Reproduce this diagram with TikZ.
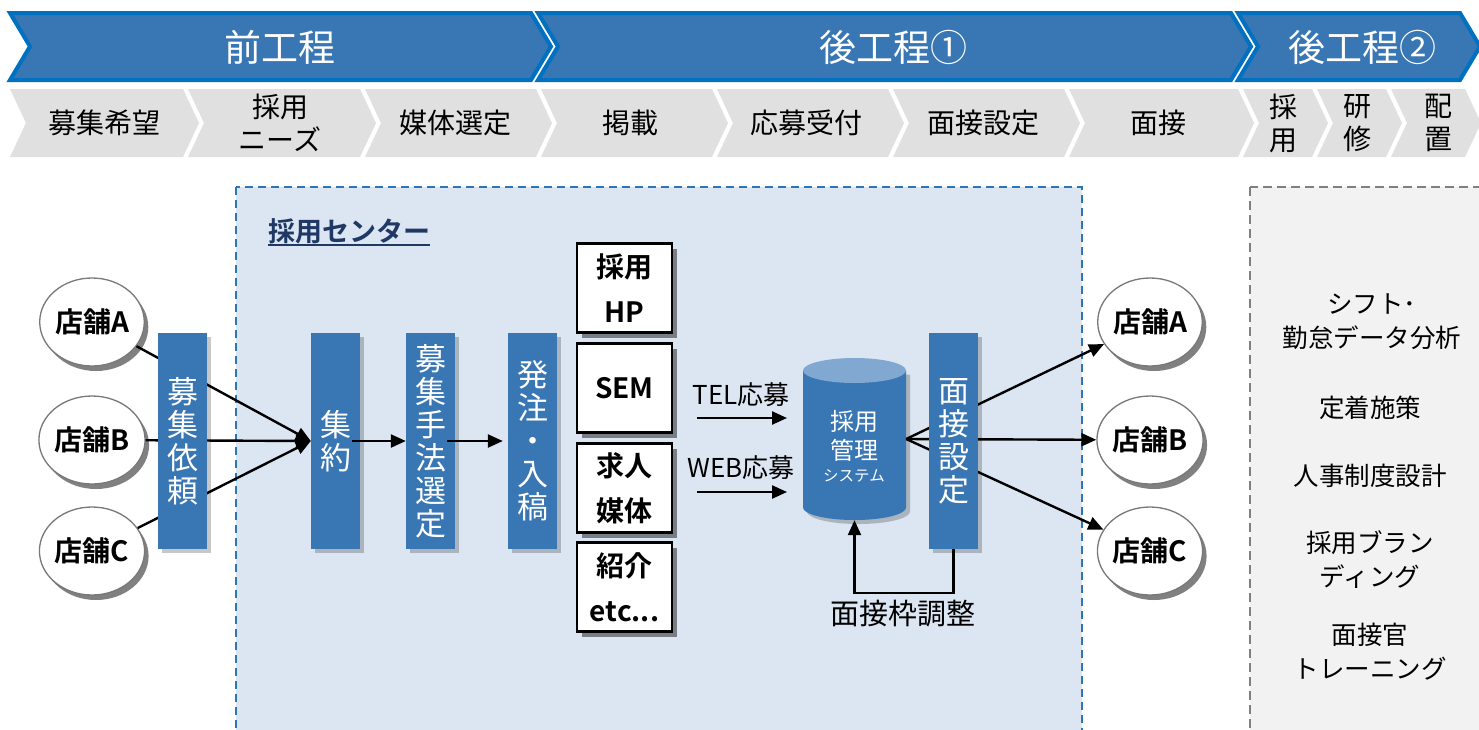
\documentclass[tikz,border=0pt]{standalone}
\usepackage{fontspec}
\setmainfont{Noto Sans CJK JP}[BoldFont={Noto Sans CJK JP Bold}]
\usetikzlibrary{shapes.geometric,shadows,arrows.meta,calc}
\definecolor{barblue}{RGB}{56,118,180}
\definecolor{hdrborder}{RGB}{0,112,192}
\definecolor{hdrfill}{RGB}{56,119,180}
\definecolor{boxfill}{RGB}{220,230,242}
\definecolor{boxline}{RGB}{46,117,182}
\definecolor{panelfill}{RGB}{242,242,242}
\definecolor{panelline}{RGB}{128,128,128}
\definecolor{chevgray}{RGB}{224,224,224}
\definecolor{cyltop}{RGB}{128,168,209}
\definecolor{navy}{RGB}{31,56,100}
\definecolor{circshadow}{RGB}{128,128,128}
\definecolor{circline}{RGB}{120,120,120}
\newcommand{\chevshape}[6]{%
  \path[#1] (#2,#4) -- (#3,#4) -- ({#3+#6},{(#4+#5)/2}) -- (#3,#5) -- (#2,#5) -- ({#2+#6},{(#4+#5)/2}) -- cycle;}
\begin{document}
\begin{tikzpicture}[x=1pt,y=-1pt,
  hdr/.style={fill=hdrfill,draw=hdrborder,line width=4pt},
  gch/.style={fill=chevgray},
  hdrtext/.style={text=white,font=\fontsize{37}{40}\selectfont,inner sep=0},
  subtext/.style={font=\fontsize{28}{33}\selectfont,align=center,inner sep=0},
  store/.style={ellipse,draw=circline,line width=1.3pt,fill=white,minimum width=92pt,minimum height=88pt,inner sep=0,font=\bfseries\fontsize{28}{30}\selectfont,drop shadow={shadow xshift=4pt,shadow yshift=-5pt,fill=circshadow,opacity=1}},
  bar/.style={fill=barblue,text=white,minimum width=49pt,minimum height=216pt,inner sep=0,align=center,font=\fontsize{31}{33}\selectfont,drop shadow={shadow xshift=4pt,shadow yshift=-4pt,fill=black,opacity=0.22}},
  media/.style={draw=black,line width=2.2pt,fill=white,minimum width=95pt,minimum height=89pt,inner sep=0,align=center,font=\bfseries\fontsize{28}{45}\selectfont,drop shadow={shadow xshift=5pt,shadow yshift=-5pt,fill=black,opacity=0.45}},
  conn/.style={line width=2.4pt,draw=black},
  arr/.style={conn,-{Triangle[length=15pt,width=13pt]}},
  lbl/.style={font=\fontsize{26}{28}\selectfont,inner sep=0},
  paneltext/.style={font=\fontsize{25.5}{34}\selectfont,align=center,inner sep=0},
]
\useasboundingbox (0,0) rectangle (1479,729);
\fill[white] (0,0) rectangle (1479,729);
% header chevrons
\chevshape{hdr}{10}{531}{13}{80}{20}
\chevshape{hdr}{538}{1231}{13}{80}{20}
\chevshape{hdr}{1238}{1460}{13}{80}{20}
% step chevrons
\chevshape{gch}{10}{183}{89}{157}{16}
\chevshape{gch}{188}{360}{89}{157}{16}
\chevshape{gch}{365}{536}{89}{157}{16}
\chevshape{gch}{541}{712}{89}{157}{16}
\chevshape{gch}{717}{888}{89}{157}{16}
\chevshape{gch}{893}{1064}{89}{157}{16}
\chevshape{gch}{1069}{1238}{89}{157}{16}
\chevshape{gch}{1243}{1312}{89}{157}{16}
\chevshape{gch}{1317}{1386}{89}{157}{16}
\chevshape{gch}{1391}{1465}{89}{157}{16}
% regions
\draw[boxline,fill=boxfill,line width=2pt,dash pattern=on 8pt off 5pt] (236,187) rectangle (1082,760);
\draw[panelline,fill=panelfill,line width=2.5pt,dash pattern=on 9pt off 5pt] (1250,187) rectangle (1500,760);

% header texts
\node[hdrtext] (h1) at (280,47) {前工程};
\node[hdrtext] (h2) at (893,47) {後工程①};
\node[hdrtext] (h3) at (1362,47) {後工程②};
\node[subtext] (s1) at (104,123) {募集希望};
\node[subtext] (s2) at (280,123) {採用\\ニーズ};
\node[subtext] (s3) at (455,123) {媒体選定};
\node[subtext] (s4) at (630,123) {掲載};
\node[subtext] (s5) at (806,123) {応募受付};
\node[subtext] (s6) at (983,123) {面接設定};
\node[subtext] (s7) at (1158,123) {面接};
\node[subtext] (s8) at (1283,123) {採\\用};
\node[subtext] (s9) at (1357,123) {研\\修};
\node[subtext] (s10) at (1438,123) {配\\置};

% title
\node[font=\bfseries\fontsize{27}{30}\selectfont,text=navy,inner sep=0,anchor=west] (title) at (268,231) {採用センター};
\draw[navy,line width=1.6pt] ([yshift=-1pt]title.south west) -- ([yshift=-1pt]title.south east);

% stores
\node[store] (lA) at (92,322) {店舗A};
\node[store] (lB) at (92,440) {店舗B};
\node[store] (lC) at (92,551) {店舗C};
\node[store] (rA) at (1150,322) {店舗A};
\node[store] (rB) at (1150,440) {店舗B};
\node[store] (rC) at (1150,551) {店舗C};

% aggregation bar, then the lines that pass behind the request bar
\node[bar] (agg) at (335.5,441) {集\\約};
\draw[arr] (lA) -- (agg.west);
\draw[arr] (lB) -- (agg.west);
\draw[arr] (lC) -- (agg.west);
\node[bar] (req) at (182.5,441) {募\\集\\依\\頼};
\node[bar] (meth) at (430.5,441) {募\\集\\手\\法\\選\\定};
\node[bar] (order) at (532.5,441) {発\\注\\・\\入\\稿};

% media
\node[media] (hp) at (624.5,288) {採用\\HP};
\node[media] (sem) at (624.5,388) {SEM};
\node[media] (job) at (624.5,488) {求人\\媒体};
\node[media] (intro) at (624.5,587) {紹介\\etc...};

% cylinder
\fill[barblue,drop shadow={shadow xshift=4pt,shadow yshift=-4pt,fill=black,opacity=0.22}] (803,370.5) -- (803,507.5) arc[start angle=180,end angle=0,x radius=51.5,y radius=12.5] -- (906,370.5) -- cycle;
\fill[cyltop] (854.5,370.5) ellipse[x radius=51.5,y radius=12.5];
\node[minimum width=103pt,minimum height=162pt,inner sep=0] (sys) at (854.5,439) {};
\node[text=white,font=\fontsize{24}{26}\selectfont,inner sep=0] (sys1) at (854,421) {採用};
\node[text=white,font=\fontsize{24}{26}\selectfont,inner sep=0] (sys2) at (854,450) {管理};
\node[text=white,font=\fontsize{15.5}{18}\selectfont,inner sep=0] (sys3) at (854,476) {システム};

% lines to the stores, behind the interview bar
\draw[arr] (sys.east) -- (rA);
\draw[arr] (sys.east) -- (rB);
\draw[arr] (sys.east) -- (rC);
\node[bar] (iv) at (953.5,441) {面\\接\\設\\定};

\draw[arr] ([xshift=-8pt]agg.east) -- (meth.west);
\draw[arr] ([xshift=-8pt]meth.east) -- ([xshift=-5pt]order.west);

\node[lbl] (tel) at (741,395) {TEL応募};
\coordinate (telS) at (697,418);
\coordinate (telE) at (787,418);
\draw[arr] (telS) -- (telE);
\node[lbl] (web) at (741,468) {WEB応募};
\coordinate (webS) at (697,492);
\coordinate (webE) at (787,492);
\draw[arr] (webS) -- (webE);

\draw[arr] (iv.south) -- ++(0,44) -| (sys.south);
\node[lbl,font=\fontsize{29}{30}\selectfont] (adj) at (903,614) {面接枠調整};

% right panel
\node[paneltext] (p1) at (1372,322) {シフト･\\勤怠データ分析};
\node[paneltext] (p2) at (1370,408) {定着施策};
\node[paneltext] (p3) at (1370,476) {人事制度設計};
\node[paneltext] (p4) at (1370,560) {採用ブラン\\ディング};
\node[paneltext] (p5) at (1370,652) {面接官\\トレーニング};
\end{tikzpicture}
\end{document}
